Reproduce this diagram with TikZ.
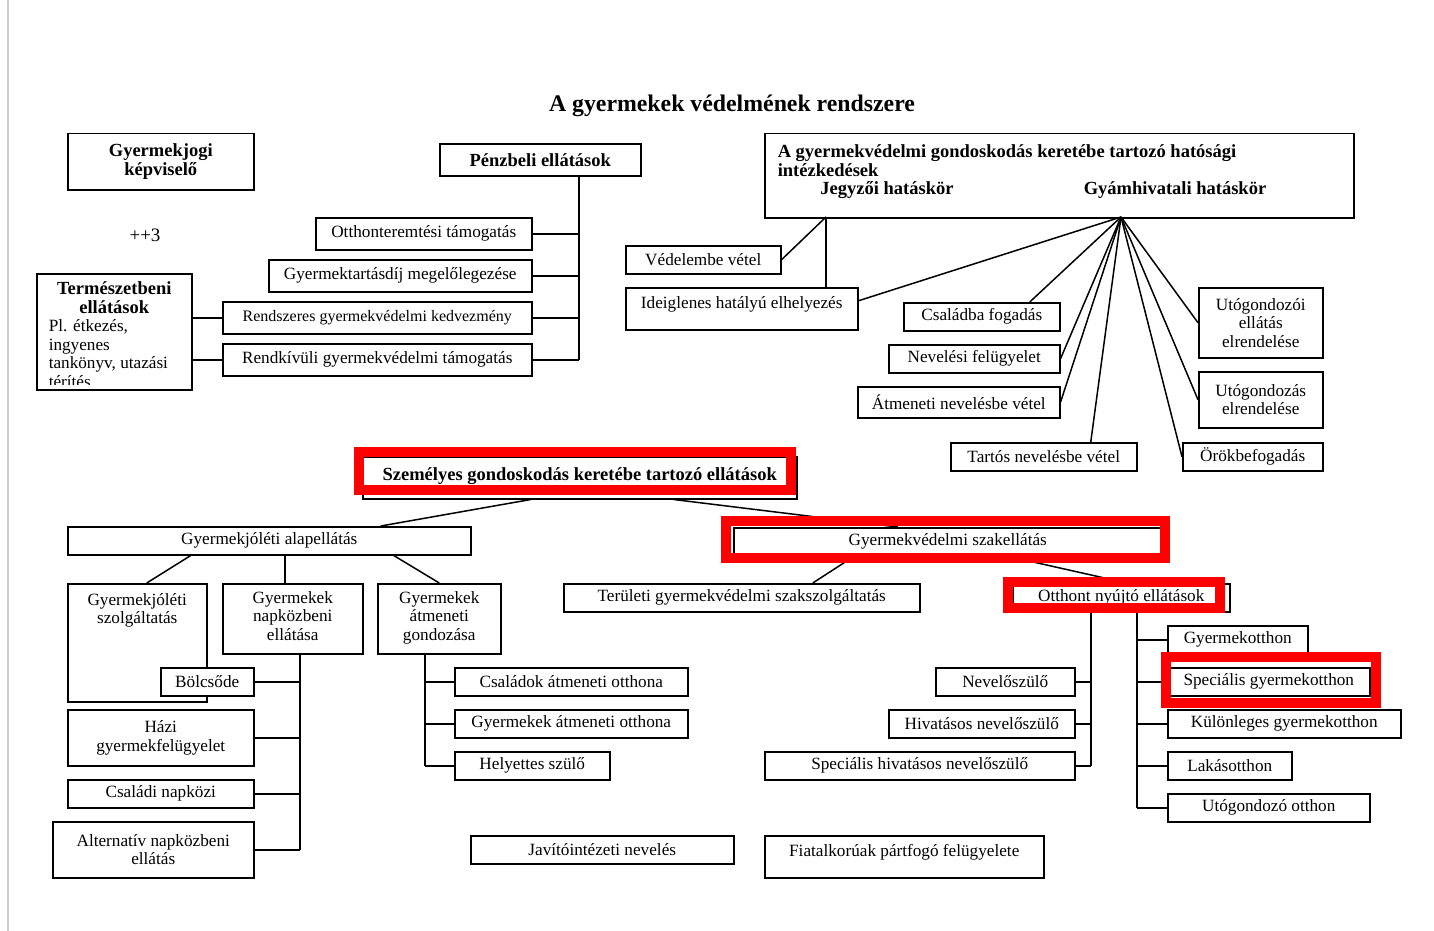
\documentclass[tikz,border=0pt]{standalone}
\usepackage{fontspec}
\setmainfont{Liberation Serif}
\usetikzlibrary{positioning}
\newcommand{\fs}{\fontsize{17.2}{18.5}\selectfont}
\newcommand{\fb}{\fontsize{18.5}{19}\selectfont\bfseries}
\tikzset{
  box/.style={draw, anchor=north west, inner sep=2pt, align=center, font=\fs},
  wh/.style 2 args={minimum width=#1, minimum height=#2},
  hl/.style={draw=red, line width=10pt},
}
\begin{document}
\begin{tikzpicture}[x=1pt, y=-1pt, line width=1.5pt]
  \useasboundingbox[fill=white] (0,0) rectangle (1434,931);
  \draw[black!20, line width=1.5pt] (8,0) -- (8,931);

  \node[font=\fontsize{23.8}{26}\selectfont\bfseries] (title) at (732,106) {A gyermekek védelmének rendszere};

  \node[box, wh={186}{56}, font=\fb] (jogi) at (67,133) {Gyermekjogi\\képviselő};
  \node[font=\fontsize{19}{22}\selectfont] (plus) at (145,235) {++3};
  \node[box, wh={201}{32}, font=\fb] (penz) at (439,143) {Pénzbeli ellátások};
  \foreach \n/\x/\y/\w/\f/\str in {otth/315/217/216/17.2/Otthonteremtési támogatás,
                                   tart/268/259/263/17.2/Gyermektartásdíj megelőlegezése,
                                   rendsz/222/301/309/16/Rendszeres gyermekvédelmi kedvezmény,
                                   rendk/222/343/309/17.2/Rendkívüli gyermekvédelmi támogatás}
    {\node[box, wh={\w}{32}, font=\fontsize{\f}{18.5}\selectfont] (\n) at (\x,\y) {\str};
    };
  \coordinate (ptrunk) at ([xshift=38.5pt]penz.south);
  \draw (ptrunk) -- (ptrunk |- rendk.east);
  \foreach \n in {otth,tart,rendsz,rendk}
    {\draw (\n.east) -- (\n.east -| ptrunk);
    };

  \node[box, wh={155}{116}] (term) at (36,273) {};
  \begin{scope}
    \clip (term.north west) rectangle ([yshift=6pt]term.south east);
    \node[font=\fb, align=center, anchor=north, inner sep=0pt] (termfej) at ([yshift=-8pt]term.north) {Természetbeni\\ellátások};
    \node[font=\fs, align=left, anchor=north west, inner sep=0pt] (termtxt) at (48,319) {Pl. étkezés,\\ingyenes\\tankönyv, utazási\\térítés};
  \end{scope}
  \foreach \n in {rendsz,rendk}
    {\draw (term.east |- \n.west) -- (\n.west);
    };

  % hatosagi intezkedesek
  \node[box, wh={589}{84}] (hat) at (764,133) {};
  \node[font=\fb, align=left, anchor=north west, inner sep=0pt] (hattxt) at (777,144) {A gyermekvédelmi gondoskodás keretébe tartozó hatósági\\intézkedések};
  \node[font=\fb] (jegy) at (887,190) {Jegyzői hatáskör};
  \node[font=\fb] (gyam) at (1175,190) {Gyámhivatali hatáskör};
  \coordinate (jhub) at (826,217);
  \coordinate (ghub) at (1121,217);

  \node[box, wh={232}{42}, text depth=13pt] (ideig) at (625,287) {Ideiglenes hatályú elhelyezés};
  \node[box, wh={202}{31}] (atmen) at (857,386) {Átmeneti nevelésbe vétel};
  \node[box, wh={124}{70}] (utogi) at (1198,287) {Utógondozói\\ellátás\\elrendelése};
  \node[box, wh={124}{56}] (utog) at (1198,371) {Utógondozás\\elrendelése};
  \node[box, wh={279}{42}, text depth=13pt] (fiatal) at (764,835) {Fiatalkorúak pártfogó felügyelete};

  \foreach \n/\x/\y/\w/\str in {vedel/625/245/155/Védelembe vétel,
                                csal/903/302/156/Családba fogadás,
                                nevfel/888/344/171/Nevelési felügyelet,
                                tartos/950/442/186/Tartós nevelésbe vétel,
                                orokb/1182/442/140/Örökbefogadás,
                                alap/67/526/403/Gyermekjóléti alapellátás,
                                szakell/733/527/428/Gyermekvédelmi szakellátás,
                                terul/563/583/356/Területi gyermekvédelmi szakszolgáltatás,
                                otthont/1012/583/217/Otthont nyújtó ellátások,
                                csaladi/67/779/186/Családi napközi,
                                csaot/454/667/233/Családok átmeneti otthona,
                                gyaot/454/709/233/Gyermekek átmeneti otthona,
                                helyet/454/751/155/Helyettes szülő,
                                javit/470/835/263/Javítóintézeti nevelés,
                                nevsz/935/667/139/Nevelőszülő,
                                hivnev/888/709/186/Hivatásos nevelőszülő,
                                spechiv/764/751/310/Speciális hivatásos nevelőszülő,
                                gyo/1167/625/140/Gyermekotthon,
                                specgy/1167/667/202/Speciális gyermekotthon,
                                kulgy/1167/709/233/Különleges gyermekotthon,
                                lakas/1167/751/124/Lakásotthon,
                                utoo/1167/793/202/Utógondozó otthon}
    {\node[box, wh={\w}{28}] (\n) at (\x,\y) {\str};
    };

  \draw (jhub) -- (vedel.east);
  \draw (jhub) -- (jhub |- ideig.north);
  \draw (ghub) -- ([yshift=8pt]ideig.east);
  \draw (ghub) -- ([xshift=48pt]csal.north);
  \draw (ghub) -- (nevfel.east);
  \draw (ghub) -- (atmen.east);
  \draw (ghub) -- ([xshift=47pt]tartos.north);
  \draw (ghub) -- (orokb.west);
  \draw (ghub) -- (utog.west);
  \draw (ghub) -- (utogi.west);

  % szemelyes gondoskodas
  \node[box, wh={434}{42}, font=\fb, text depth=8pt] (szem) at (362,456) {Személyes gondoskodás keretébe tartozó ellátások};
  \node[box, wh={139}{118}, label={[font=\fs, align=center, anchor=north, yshift=-6pt]north:{Gyermekjóléti\\szolgáltatás}}] (gyszolg) at (67,583) {};
  \node[box, wh={140}{70}, text depth=6pt] (napk) at (222,583) {Gyermekek\\napközbeni\\ellátása};
  \node[box, wh={123}{70}, text depth=6pt] (atmg) at (377,583) {Gyermekek\\átmeneti\\gondozása};
  \node[box, wh={93}{28}, fill=white] (bolcs) at (160,667) {Bölcsőde};
  \node[box, wh={186}{56}] (hazi) at (67,709) {Házi\\gyermekfelügyelet};
  \node[box, wh={201}{56}] (alt) at (52,821) {Alternatív napközbeni\\ellátás};

  \draw ([xshift=-49pt]szem.south) -- ([xshift=111.5pt]alap.north);
  \draw ([xshift=94pt]szem.south) -- ([xshift=-50pt]szakell.north);
  \draw ([xshift=-78.5pt]alap.south) -- ([xshift=9.5pt]gyszolg.north);
  \draw ([xshift=15.5pt]alap.south) -- ([xshift=-8pt]napk.north);
  \draw ([xshift=124.5pt]alap.south) -- (atmg.north);
  \draw ([xshift=-94pt]szakell.south) -- ([xshift=71pt]terul.north);
  \draw ([xshift=61pt]szakell.south) -- ([xshift=5.5pt]otthont.north);

  \coordinate (ntrunk) at ([xshift=7pt]napk.south);
  \draw (ntrunk) -- (ntrunk |- alt.east);
  \foreach \n in {bolcs,hazi,csaladi,alt}
    {\draw (\n.east) -- (\n.east -| ntrunk);
    };
  \coordinate (atrunk) at ([xshift=-14.5pt]atmg.south);
  \draw (atrunk) -- (atrunk |- helyet.west);
  \foreach \n in {csaot,gyaot,helyet}
    {\draw (\n.west) -- (\n.west -| atrunk);
    };
  \coordinate (otrunk) at ([xshift=-30.5pt]otthont.south);
  \draw (otrunk) -- (otrunk |- spechiv.east);
  \foreach \n in {nevsz,hivnev,spechiv}
    {\draw (\n.east) -- (\n.east -| otrunk);
    };
  \coordinate (htrunk) at ([xshift=15.5pt]otthont.south);
  \draw (htrunk) -- (htrunk |- utoo.west);
  \foreach \n in {gyo,specgy,kulgy,lakas,utoo}
    {\draw (\n.west) -- (\n.west -| htrunk);
    };

  \draw[hl] (359,452) rectangle (791,490);
  \draw[hl] (726,521) rectangle (1165,558);
  \draw[hl] (1007.5,582) rectangle (1220,608);
  \draw[hl] (1166,656.5) rectangle (1375.5,703);
\end{tikzpicture}
\end{document}
